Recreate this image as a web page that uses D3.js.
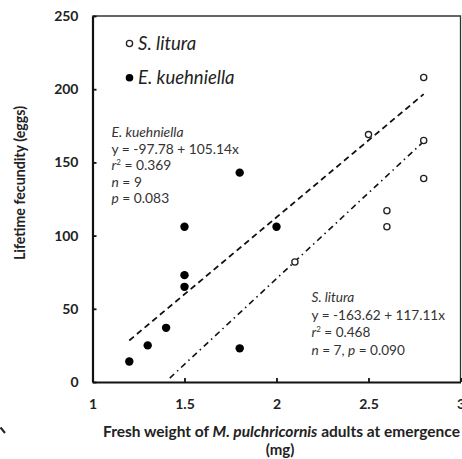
<!DOCTYPE html>
<html><head><meta charset="utf-8">
<script src="https://cdn.jsdelivr.net/npm/d3@7"></script>
<style>body{margin:0;background:#fff;} svg{display:block;font-family:Lato,"Open Sans",sans-serif;}</style>
</head><body>
<svg id="c" width="462" height="459"></svg>
<script>
const sLituraX = [2.1, 2.5, 2.6, 2.6, 2.8, 2.8, 2.8];
const sLituraY = [82, 169, 117, 106, 208, 165, 139];
const eKuehX = [1.2, 1.3, 1.4, 1.5, 1.5, 1.5, 1.8, 1.8, 2.0];
const eKuehY = [14, 25, 37, 106, 73, 65, 143, 23, 106];
const xTicks = [1, 1.5, 2, 2.5, 3];
const yTicks = [0, 50, 100, 150, 200, 250];
const eKuehFit = {a: -97.78, b: 105.14, x0: 1.2, x1: 2.8};
const sLituraFit = {a: -163.62, b: 117.11, x0: 1.42, x1: 2.8};

const svg = d3.select("#c");
const x = d3.scaleLinear().domain([1, 3]).range([92.5, 460.5]);
const y = d3.scaleLinear().domain([0, 250]).range([382, 16]);

// plot frame (top/right)
svg.append("path").attr("d", `M${x(1)},${y(250)}H${x(3)}V${y(0)}`)
  .attr("fill","none").attr("stroke","#333").attr("stroke-width",1.3);

const xAxis = d3.axisBottom(x).tickValues(xTicks).tickSizeInner(-4).tickSizeOuter(0)
  .tickFormat(d => d3.format("")(d)).tickPadding(17);
const gx = svg.append("g").attr("transform",`translate(0,${y(0)})`).call(xAxis);
const yAxis = d3.axisLeft(y).tickValues(yTicks).tickSizeInner(-4).tickSizeOuter(0).tickPadding(14);
const gy = svg.append("g").attr("transform",`translate(${x(1)},0)`).call(yAxis);
[gx, gy].forEach(g => {
  g.select(".domain").attr("stroke","#111").attr("stroke-width",2.2);
  g.selectAll(".tick line").attr("stroke","#111").attr("stroke-width",1.8);
  g.selectAll(".tick text").attr("font-family","Lato, sans-serif").attr("font-size",14)
    .attr("font-weight","bold").attr("fill","#222");
});

// regression lines
const line = d3.line().x(d => x(d[0])).y(d => y(d[1]));
function fitPts(f){ return [[f.x0, f.a + f.b*f.x0],[f.x1, f.a + f.b*f.x1]]; }
svg.append("path").attr("d", line(fitPts(eKuehFit))).attr("stroke","#111")
  .attr("stroke-width",1.8).attr("stroke-dasharray","6,4").attr("fill","none");
svg.append("path").attr("d", line(fitPts(sLituraFit))).attr("stroke","#111")
  .attr("stroke-width",1.6).attr("stroke-dasharray","6,4,1.5,4").attr("fill","none");

// points
svg.append("g").selectAll("circle").data(eKuehX.map((v,i)=>[v,eKuehY[i]])).join("circle")
  .attr("cx",d=>x(d[0])).attr("cy",d=>y(d[1])).attr("r",4.2).attr("fill","#000");
svg.append("g").selectAll("circle").data(sLituraX.map((v,i)=>[v,sLituraY[i]])).join("circle")
  .attr("cx",d=>x(d[0])).attr("cy",d=>y(d[1])).attr("r",3.1).attr("fill","#fff")
  .attr("stroke","#222").attr("stroke-width",1.3);

// legend
svg.append("circle").attr("cx",129.5).attr("cy",43.5).attr("r",3.1).attr("fill","#fff").attr("stroke","#222").attr("stroke-width",1.3);
svg.append("text").attr("x",138).attr("y",49.5).attr("font-size",18.5).attr("font-style","italic").attr("fill","#222").text("S. litura");
svg.append("circle").attr("cx",129.5).attr("cy",77.7).attr("r",3.8).attr("fill","#000");
svg.append("text").attr("x",138).attr("y",84).attr("font-size",18.5).attr("font-style","italic").attr("fill","#222").text("E. kuehniella");

// annotations
function annot(x0, y0, dy, fs, lines){
  const t = svg.append("text").attr("font-size",fs).attr("fill","#333");
  lines.forEach((parts,i) => {
    const row = t.append("tspan").attr("x",x0).attr("y",y0+i*dy);
    parts.forEach(p => {
      const s = t.append("tspan").text(p.t);
      if (p.i) s.attr("font-style","italic");
      if (p.sup) s.attr("font-size",8).attr("dy",-5);
      if (p.down) s.attr("dy",5);
      row.node().appendChild(s.node());
    });
  });
}
annot(111.5, 137, 16.5, 13.8, [
  [{t:"E. kuehniella", i:true}],
  [{t:"y = -97.78 + 105.14x"}],
  [{t:"r", i:true},{t:"2", sup:true},{t:" = 0.369", down:true}],
  [{t:"n", i:true},{t:" = 9"}],
  [{t:"p", i:true},{t:" = 0.083"}]
]);
annot(311.5, 302, 17.5, 13.6, [
  [{t:"S. litura", i:true}],
  [{t:"y = -163.62 + 117.11x"}],
  [{t:"r", i:true},{t:"2", sup:true},{t:" = 0.468", down:true}],
  [{t:"n", i:true},{t:" = 7, "},{t:"p", i:true},{t:" = 0.090"}]
]);

// axis titles
const xt = svg.append("text").attr("x",103).attr("y",437)
  .attr("font-size",15.5).attr("font-weight","bold").attr("fill","#222");
xt.append("tspan").text("Fresh weight of ");
xt.append("tspan").attr("font-style","italic").text("M. pulchricornis");
xt.append("tspan").text(" adults at emergence");
svg.append("text").attr("x",280).attr("y",455).attr("text-anchor","middle")
  .attr("font-size",15).attr("font-weight","bold").attr("fill","#222").text("(mg)");
svg.append("text").attr("transform","translate(25,183) rotate(-90)").attr("text-anchor","middle")
  .attr("font-size",14.2).attr("font-weight","bold").attr("fill","#222").text("Lifetime fecundity (eggs)");

// small stray mark at lower left
svg.append("path").attr("d","M0.5,427.5 L5,433").attr("stroke","#222").attr("stroke-width",2);
</script>
</body></html>
